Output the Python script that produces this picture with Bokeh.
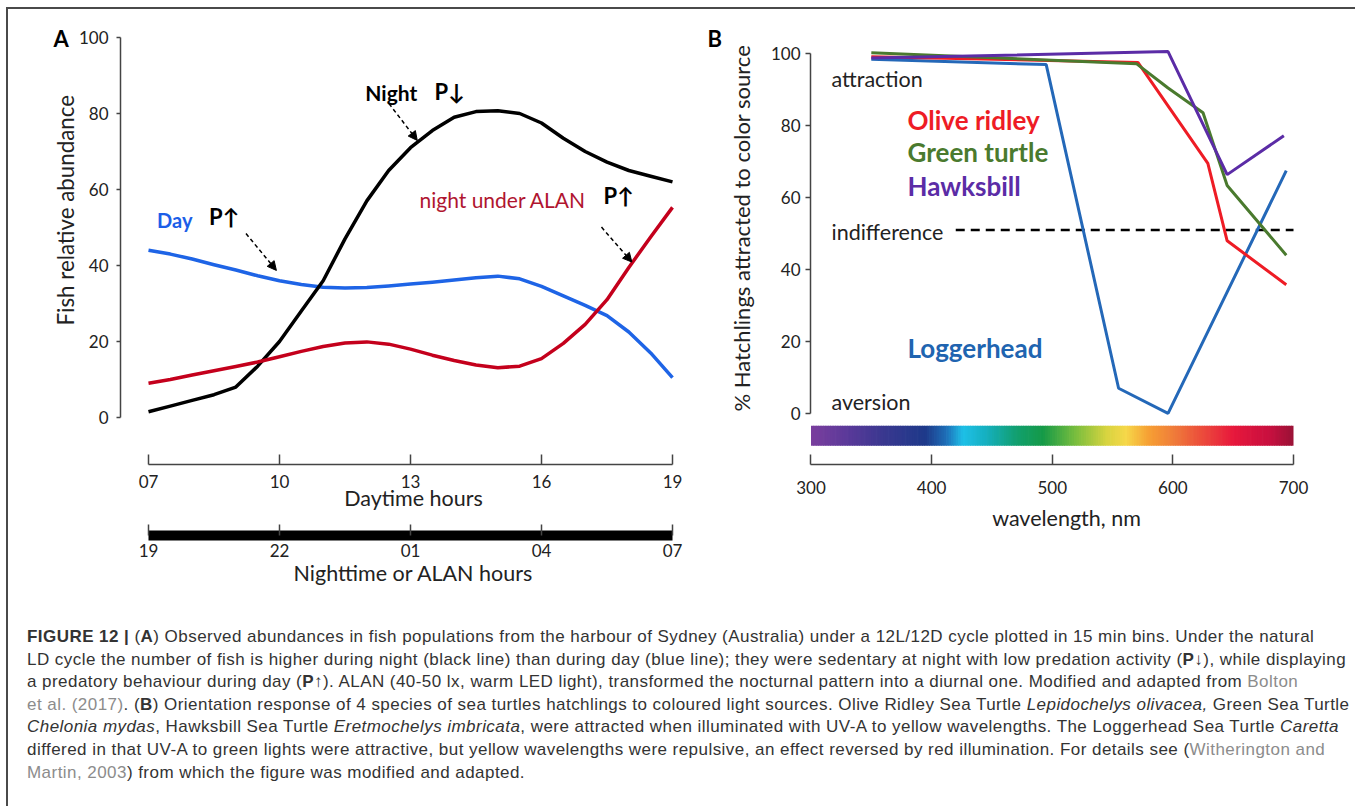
import numpy as np
from bokeh.plotting import figure
from bokeh.models import Range1d, LinearAxis, FixedTicker, Label, Arrow, NormalHead, Div, Title
from bokeh.layouts import column, row
from bokeh.embed import file_html
from bokeh.resources import INLINE

# ---------------- Panel A data ----------------
hours = [7.0, 7.5, 8.0, 8.5, 9.0, 9.5, 10.0, 10.5, 11.0, 11.5, 12.0, 12.5, 13.0,
         13.5, 14.0, 14.5, 15.0, 15.5, 16.0, 16.5, 17.0, 17.5, 18.0, 18.5, 19.0]
night = [1.5, 3.0, 4.5, 6.0, 8.0, 13.5, 20.0, 28.0, 36.0, 47.0, 57.0, 65.0, 71.0,
         75.5, 79.0, 80.5, 80.7, 80.0, 77.5, 73.5, 70.0, 67.2, 65.0, 63.5, 62.0]
day = [44.0, 43.0, 41.7, 40.2, 38.8, 37.3, 36.0, 35.0, 34.3, 34.1, 34.2, 34.6, 35.1,
       35.6, 36.2, 36.8, 37.2, 36.5, 34.5, 32.0, 29.5, 26.8, 22.5, 17.0, 10.5]
alan = [9.0, 10.0, 11.2, 12.3, 13.4, 14.6, 16.0, 17.4, 18.7, 19.6, 19.9, 19.3, 18.0,
        16.4, 15.0, 13.8, 13.1, 13.5, 15.5, 19.5, 24.5, 31.0, 39.5, 47.5, 55.3]
hour_ticks = [7, 10, 13, 16, 19]
day_tick_labels = ["07", "10", "13", "16", "19"]
night_tick_labels = ["19", "22", "01", "04", "07"]
abundance_ticks = [0, 20, 40, 60, 80, 100]

# ---------------- Panel B data ----------------
wl_olive = [350, 571, 629, 645, 694]
olive = [99.2, 97.6, 69.5, 48.0, 35.8]
wl_green = [350, 570, 596, 625, 645, 694]
green = [100.3, 97.2, 90.5, 83.6, 63.4, 44.0]
wl_hawks = [350, 596, 645, 692]
hawks = [98.8, 100.6, 66.4, 77.2]
wl_logger = [350, 495, 555, 596, 694]
logger = [98.5, 97.0, 7.0, 0.0, 67.5]
indiff_wl = [420, 700]
indiff_val = [51, 51]
wl_ticks = [300, 400, 500, 600, 700]
pct_ticks = [0, 20, 40, 60, 80, 100]

spec_nm = [300, 330, 360, 395, 412, 426, 445, 470, 492, 520, 545, 561, 580, 600, 625, 650, 680, 700]
spec_col = ["#7b3f9e", "#5b3a9a", "#3a3890", "#1e3a8a", "#1f6fb8", "#1ec0e8", "#16b0c0",
            "#12a070", "#159a48", "#7cbf3e", "#d8d440", "#f6d84a", "#f7a034", "#f07e3a",
            "#ec4a3c", "#e8183c", "#c81040", "#9a1236"]

FONT = "Lato"
TXT = "#222222"
AX = "#444444"


def style_axis(ax, tick_in=0, tick_out=4, standoff=6, label_standoff=4):
    ax.axis_line_color = AX
    ax.axis_line_width = 1.5
    ax.major_tick_line_color = AX
    ax.major_tick_line_width = 1.5
    ax.major_tick_in = tick_in
    ax.major_tick_out = tick_out
    ax.minor_tick_line_color = None
    ax.major_label_text_font = FONT
    ax.major_label_text_font_size = "17px"
    ax.major_label_text_color = TXT
    ax.major_label_standoff = standoff
    ax.axis_label_text_font = FONT
    ax.axis_label_text_font_size = "21.5px"
    ax.axis_label_text_font_style = "normal"
    ax.axis_label_text_color = TXT
    ax.axis_label_standoff = label_standoff


def side_title(p, text, place, size, style="normal", align="center", offset=0, standoff=0,
               color=TXT):
    t = Title(text=text, align=align, offset=offset, standoff=standoff, text_font=FONT,
              text_font_size=size, text_font_style=style, text_color=color)
    p.add_layout(t, place)
    return t


# ---------------- Panel A ----------------
pA = figure(width=698, height=599, output_backend="svg", toolbar_location=None,
            x_range=Range1d(6.3588, 19.7786), y_range=Range1d(-12.368, 101.84),
            min_border_left=112, min_border_right=0, min_border_top=21, min_border_bottom=144,
            x_axis_location=None, y_axis_location=None)
pA.outline_line_color = None
pA.grid.visible = False

ya = LinearAxis(bounds=(0, 100), ticker=FixedTicker(ticks=abundance_ticks))
style_axis(ya, tick_in=0, tick_out=4, standoff=8)
pA.add_layout(ya, "left")
side_title(pA, "Fish relative abundance", "left", "22.3px", align="left", offset=139, standoff=-6)

xa1 = LinearAxis(bounds=(7, 19), ticker=FixedTicker(ticks=hour_ticks),
                 major_label_overrides=dict(zip(hour_ticks, day_tick_labels)),
                 axis_label="Daytime hours")
style_axis(xa1, tick_in=10, tick_out=0, standoff=10, label_standoff=-6)
pA.add_layout(xa1, "below")

# empty spacer axis: an invisible blank label only reserves vertical room between the two time axes
spacer = LinearAxis(ticker=FixedTicker(ticks=[]), axis_line_color=None, major_tick_in=0,
                    major_tick_out=0, major_tick_line_color=None, minor_tick_line_color=None,
                    major_label_standoff=0, axis_label="\u00a0", axis_label_standoff=0,
                    axis_label_text_font=FONT, axis_label_text_font_size="16.25px",
                    axis_label_text_color="white")
pA.add_layout(spacer, "below")

xa2 = LinearAxis(bounds=(7, 19), ticker=FixedTicker(ticks=hour_ticks),
                 major_label_overrides=dict(zip(hour_ticks, night_tick_labels)),
                 axis_label="Nighttime or ALAN hours")
style_axis(xa2, tick_in=11, tick_out=0, standoff=8, label_standoff=0)
xa2.axis_line_width = 10
xa2.axis_line_color = "black"
pA.add_layout(xa2, "below")

side_title(pA, "A", "above", "22px", style="bold", align="left", offset=-67, standoff=-43,
           color="black")

pA.line(hours, day, line_color="#1e64e6", line_width=3.5, line_join="round")
pA.line(hours, night, line_color="black", line_width=3.5, line_join="round")
pA.line(hours, alan, line_color="#c4001c", line_width=3.5, line_join="round")


def lab(p, x, y, text, size="20px", color="black", style="normal", align="left"):
    p.add_layout(Label(x=x, y=y, text=text, text_font=FONT, text_font_size=size,
                       text_color=color, text_font_style=style, text_align=align,
                       text_baseline="middle"))


lab(pA, 11.965, 85.4, "Night", size="21px", style="bold")
lab(pA, 13.55, 85.9, "P\u2193", size="22px", style="bold")
lab(pA, 7.196, 51.9, "Day", color="#1c5ee8", style="bold")
lab(pA, 8.388, 53.0, "P\u2191", size="22px", style="bold")
lab(pA, 13.206, 57.4, "night under ALAN", size="21px", color="#b01530")
lab(pA, 17.42, 58.3, "P\u2191", size="22px", style="bold")

for (xs, ys, xe, ye) in [(12.508, 82.6, 13.155, 72.9), (9.233, 48.4, 9.929, 38.7),
                         (17.374, 50.1, 18.07, 40.9)]:
    pA.add_layout(Arrow(end=NormalHead(size=9, fill_color="black", line_color="black", line_width=1),
                        x_start=xs, y_start=ys, x_end=xe, y_end=ye,
                        line_dash="4 3", line_width=1.5, line_color="black"))

# ---------------- Panel B ----------------
pB = figure(width=641, height=599, output_backend="svg", toolbar_location=None,
            x_range=Range1d(299.59, 724.04), y_range=Range1d(-14.19, 106.47),
            min_border_left=104, min_border_right=25, min_border_top=21, min_border_bottom=140,
            x_axis_location=None, y_axis_location=None)
pB.outline_line_color = None
pB.grid.visible = False

yb = LinearAxis(bounds=(0, 100), ticker=FixedTicker(ticks=pct_ticks))
style_axis(yb, tick_in=0, tick_out=5, standoff=5)
pB.add_layout(yb, "left")
side_title(pB, "% Hatchlings attracted to color source", "left", "22px", align="left",
           offset=53, standoff=26)
side_title(pB, "B", "above", "22px", style="bold", align="left", offset=-103, standoff=-43,
           color="black")

xb = LinearAxis(bounds=(300, 700), ticker=FixedTicker(ticks=wl_ticks), axis_label="wavelength, nm")
style_axis(xb, tick_in=10, tick_out=0, standoff=16, label_standoff=8)
pB.add_layout(xb, "below")


def _rgb(h):
    return [int(h[i:i + 2], 16) for i in (1, 3, 5)]


stops = np.array([_rgb(c) for c in spec_col], dtype=float)
edges = np.arange(300, 701, 2.0)
mids = (edges[:-1] + edges[1:]) / 2
cols = []
for m in mids:
    r, g, b = (np.interp(m, spec_nm, stops[:, k]) for k in range(3))
    cols.append("#%02x%02x%02x" % (int(r), int(g), int(b)))
pB.quad(left=edges[:-1], right=np.minimum(edges[1:] + 0.6, 700), bottom=-9.0, top=-3.4,
        fill_color=cols, line_color=None)

pB.line(indiff_wl, indiff_val, line_color="black", line_width=2.5, line_dash="9 6")
pB.line(wl_logger, logger, line_color="#2468b8", line_width=3)
pB.line(wl_olive, olive, line_color="#ee1c25", line_width=3)
pB.line(wl_green, green, line_color="#4a7a2e", line_width=3)
pB.line(wl_hawks, hawks, line_color="#5b2ca6", line_width=3)

lab(pB, 317, 93.0, "attraction", size="21.5px", color=TXT)
lab(pB, 317, 50.5, "indifference", size="21.5px", color=TXT)
lab(pB, 317, 3.2, "aversion", size="21.5px", color=TXT)
lab(pB, 380, 81.7, "Olive ridley", size="26px", color="#ee1c25", style="bold")
lab(pB, 380, 72.6, "Green turtle", size="26px", color="#4a7a2e", style="bold")
lab(pB, 380, 63.2, "Hawksbill", size="26px", color="#5b2ca6", style="bold")
lab(pB, 380, 18.3, "Loggerhead", size="26px", color="#2064b0", style="bold")

# ---------------- Caption ----------------
G = '<span style="color:#8c8c8c">'
caption_lines = [
    '<b>FIGURE 12 |</b> (<b>A</b>) Observed abundances in fish populations from the harbour of Sydney (Australia) under a 12L/12D cycle plotted in 15 min bins. Under the natural',
    'LD cycle the number of fish is higher during night (black line) than during day (blue line); they were sedentary at night with low predation activity (<b>P\u2193</b>), while displaying',
    'a predatory behaviour during day (<b>P\u2191</b>). ALAN (40-50 lx, warm LED light), transformed the nocturnal pattern into a diurnal one. Modified and adapted from ' + G + 'Bolton</span>',
    G + 'et al. (2017)</span>. (<b>B</b>) Orientation response of 4 species of sea turtles hatchlings to coloured light sources. Olive Ridley Sea Turtle <i>Lepidochelys olivacea,</i> Green Sea Turtle',
    '<i>Chelonia mydas</i>, Hawksbill Sea Turtle <i>Eretmochelys imbricata</i>, were attracted when illuminated with UV-A to yellow wavelengths. The Loggerhead Sea Turtle <i>Caretta</i>',
    'differed in that UV-A to green lights were attractive, but yellow wavelengths were repulsive, an effect reversed by red illumination. For details see (' + G + 'Witherington and</span>',
    G + 'Martin, 2003</span>) from which the figure was modified and adapted.',
]
html = ('<div style="font-family:\'Liberation Sans\',Arial,sans-serif;font-size:17px;line-height:22.6px;'
        'letter-spacing:0.45px;color:#333333;padding-left:14px;padding-top:13px;white-space:nowrap;">'
        + '<br>'.join(caption_lines) + '</div>')
cap = Div(text=html, width=1339, height=188)

layout = column(row(pA, pB), cap,
                styles={"border-top": "2px solid #4a4a4a", "border-left": "2px solid #4a4a4a",
                        "margin-left": "6px", "margin-top": "7px"})

open("out.html", "w").write(file_html(layout, INLINE))
